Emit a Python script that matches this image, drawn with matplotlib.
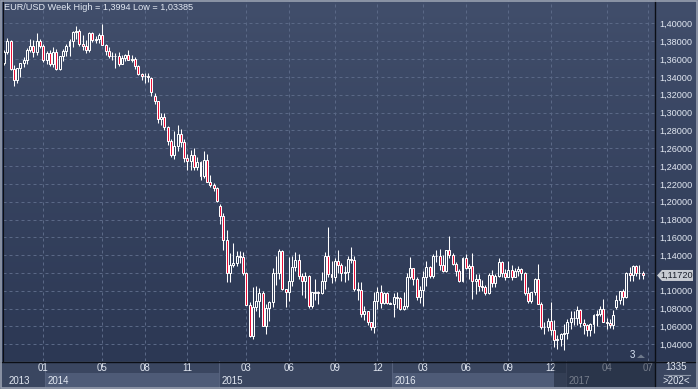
import numpy as np
import pandas as pd
import matplotlib
matplotlib.use('Agg')
import matplotlib.pyplot as plt
from matplotlib.patches import Rectangle, Polygon
from matplotlib.transforms import blended_transform_factory

# ---------------- data ----------------
symbol = 'EUR/USD'
period = 'Week'

week_starts = pd.date_range('2013-10-14', '2017-06-19', freq='W-MON')
year_split_bars = pd.to_datetime(['2014-01-01', '2015-01-01', '2016-01-01'])
bar_dates = week_starts.append(year_split_bars).sort_values()

opens = [
    1.3560, 1.3685, 1.3800, 1.3485, 1.3365, 1.3495, 1.3555, 1.3590, 1.3705, 1.3745,
    1.3675, 1.3805, 1.3745, 1.3590, 1.3665, 1.3540, 1.3680, 1.3485, 1.3635, 1.3695,
    1.3745, 1.3805, 1.3910, 1.3915, 1.3765, 1.3750, 1.3705, 1.3890, 1.3810, 1.3830,
    1.3870, 1.3760, 1.3695, 1.3630, 1.3635, 1.3640, 1.3545, 1.3610, 1.3645, 1.3595,
    1.3605, 1.3525, 1.3430, 1.3410, 1.3415, 1.3390, 1.3190, 1.3130, 1.2925, 1.2955,
    1.2835, 1.2680, 1.2520, 1.2625, 1.2760, 1.2670, 1.2490, 1.2455, 1.2525, 1.2390,
    1.2450, 1.2285, 1.2465, 1.2225, 1.2185, 1.2150, 1.1950, 1.1840, 1.1565, 1.1205,
    1.1290, 1.1315, 1.1390, 1.1380, 1.1195, 1.0845, 1.0495, 1.0815, 1.0890, 1.0970,
    1.0605, 1.0810, 1.0875, 1.1200, 1.1205, 1.1450, 1.1015, 1.0985, 1.1110, 1.1265,
    1.1350, 1.1165, 1.1110, 1.1165, 1.0825, 1.0980, 1.0985, 1.0970, 1.1105, 1.1385,
    1.1185, 1.1150, 1.1335, 1.1295, 1.1200, 1.1210, 1.1360, 1.1350, 1.1015, 1.1005,
    1.0740, 1.0770, 1.0645, 1.0590, 1.0885, 1.0990, 1.0865, 1.0970, 1.0860, 1.0855,
    1.0925, 1.0915, 1.0795, 1.0830, 1.1155, 1.1255, 1.1130, 1.0935, 1.1005, 1.1155,
    1.1265, 1.1165, 1.1390, 1.1395, 1.1285, 1.1225, 1.1455, 1.1405, 1.1305, 1.1225,
    1.1115, 1.1365, 1.1255, 1.1280, 1.1115, 1.1135, 1.1050, 1.1040, 1.0975, 1.1175,
    1.1085, 1.1165, 1.1325, 1.1195, 1.1155, 1.1235, 1.1155, 1.1225, 1.1240, 1.1200,
    1.0970, 1.0890, 1.0985, 1.1135, 1.0855, 1.0590, 1.0595, 1.0665, 1.0560, 1.0450,
    1.0455, 1.0520, 1.0530, 1.0645, 1.0700, 1.0695, 1.0785, 1.0640, 1.0615, 1.0560,
    1.0625, 1.0730, 1.0735, 1.0800, 1.0655, 1.0640, 1.0615, 1.0820, 1.0895, 1.0995,
    1.0935, 1.1205, 1.1180, 1.1280, 1.1195, 1.1200]
highs = [
    1.3705, 1.3832, 1.3812, 1.3530, 1.3500, 1.3560, 1.3620, 1.3720, 1.3830, 1.3810,
    1.3895, 1.3830, 1.3775, 1.3690, 1.3700, 1.3740, 1.3710, 1.3640, 1.3715, 1.3775,
    1.3825, 1.3915, 1.3967, 1.3935, 1.3875, 1.3810, 1.3905, 1.3900, 1.3865, 1.3890,
    1.3994, 1.3765, 1.3735, 1.3680, 1.3670, 1.3675, 1.3645, 1.3660, 1.3700, 1.3650,
    1.3625, 1.3530, 1.3445, 1.3445, 1.3445, 1.3405, 1.3220, 1.3135, 1.2990, 1.2995,
    1.2850, 1.2700, 1.2790, 1.2860, 1.2815, 1.2700, 1.2530, 1.2575, 1.2600, 1.2500,
    1.2455, 1.2570, 1.2530, 1.2295, 1.2215, 1.2170, 1.1970, 1.1870, 1.1680, 1.1420,
    1.1535, 1.1445, 1.1450, 1.1430, 1.1215, 1.0870, 1.1045, 1.1052, 1.1035, 1.1000,
    1.0850, 1.0880, 1.1260, 1.1390, 1.1465, 1.1460, 1.1025, 1.1380, 1.1385, 1.1435,
    1.1410, 1.1200, 1.1215, 1.1180, 1.0990, 1.1130, 1.1000, 1.1215, 1.1440, 1.1714,
    1.1330, 1.1370, 1.1460, 1.1315, 1.1275, 1.1390, 1.1495, 1.1390, 1.1100, 1.1095,
    1.0830, 1.0770, 1.0655, 1.0985, 1.1045, 1.1060, 1.0990, 1.0990, 1.0870, 1.0970,
    1.0990, 1.0930, 1.0985, 1.1200, 1.1375, 1.1260, 1.1150, 1.1055, 1.1220, 1.1340,
    1.1275, 1.1410, 1.1455, 1.1465, 1.1400, 1.1460, 1.1616, 1.1425, 1.1325, 1.1240,
    1.1375, 1.1415, 1.1300, 1.1428, 1.1185, 1.1185, 1.1120, 1.1070, 1.1200, 1.1235,
    1.1190, 1.1365, 1.1340, 1.1240, 1.1330, 1.1285, 1.1255, 1.1280, 1.1260, 1.1210,
    1.1040, 1.0990, 1.1145, 1.1299, 1.0870, 1.0655, 1.0700, 1.0874, 1.0670, 1.0500,
    1.0530, 1.0630, 1.0685, 1.0775, 1.0775, 1.0830, 1.0795, 1.0680, 1.0630, 1.0640,
    1.0735, 1.0780, 1.0830, 1.0905, 1.0700, 1.0680, 1.0780, 1.0950, 1.1000, 1.1020,
    1.1210, 1.1265, 1.1285, 1.1295, 1.1295, 1.1220]
lows = [
    1.3530, 1.3660, 1.3480, 1.3295, 1.3330, 1.3400, 1.3510, 1.3540, 1.3680, 1.3625,
    1.3650, 1.3730, 1.3570, 1.3550, 1.3520, 1.3510, 1.3480, 1.3475, 1.3580, 1.3640,
    1.3640, 1.3735, 1.3830, 1.3750, 1.3705, 1.3670, 1.3675, 1.3790, 1.3780, 1.3780,
    1.3760, 1.3645, 1.3615, 1.3585, 1.3500, 1.3525, 1.3540, 1.3580, 1.3590, 1.3570,
    1.3490, 1.3420, 1.3365, 1.3335, 1.3340, 1.3190, 1.3100, 1.2880, 1.2860, 1.2800,
    1.2640, 1.2500, 1.2475, 1.2570, 1.2615, 1.2440, 1.2360, 1.2360, 1.2355, 1.2355,
    1.2245, 1.2270, 1.2220, 1.2160, 1.2120, 1.2000, 1.1755, 1.1460, 1.1100, 1.1100,
    1.1270, 1.1280, 1.1315, 1.1175, 1.0840, 1.0485, 1.0462, 1.0770, 1.0710, 1.0600,
    1.0520, 1.0660, 1.0820, 1.1060, 1.1130, 1.1010, 1.0820, 1.0890, 1.1050, 1.1220,
    1.1135, 1.0955, 1.0915, 1.0810, 1.0810, 1.0900, 1.0850, 1.0960, 1.1020, 1.1155,
    1.1085, 1.1105, 1.1200, 1.1105, 1.1100, 1.1120, 1.1315, 1.1000, 1.0895, 1.0710,
    1.0675, 1.0615, 1.0555, 1.0524, 1.0800, 1.0805, 1.0850, 1.0850, 1.0850, 1.0710,
    1.0805, 1.0780, 1.0790, 1.0810, 1.1135, 1.1060, 1.0900, 1.0860, 1.0825, 1.1055,
    1.1145, 1.1145, 1.1320, 1.1235, 1.1215, 1.1215, 1.1365, 1.1290, 1.1170, 1.1100,
    1.1095, 1.1250, 1.1130, 1.0912, 1.0960, 1.1000, 1.1000, 1.0950, 1.0960, 1.1045,
    1.1045, 1.1160, 1.1160, 1.1125, 1.1150, 1.1120, 1.1150, 1.1170, 1.1120, 1.0955,
    1.0860, 1.0860, 1.0955, 1.0850, 1.0570, 1.0520, 1.0550, 1.0505, 1.0365, 1.0350,
    1.0375, 1.03385, 1.0455, 1.0575, 1.0620, 1.0620, 1.0590, 1.0520, 1.0495, 1.0495,
    1.0525, 1.0600, 1.0715, 1.0650, 1.0570, 1.0580, 1.0570, 1.0800, 1.0850, 1.0840,
    1.0920, 1.1110, 1.1110, 1.1170, 1.1130, 1.1130]
closes = [
    1.3685, 1.3800, 1.3485, 1.3365, 1.3495, 1.3555, 1.3590, 1.3705, 1.3745, 1.3675,
    1.3805, 1.3745, 1.3590, 1.3665, 1.3540, 1.3680, 1.3485, 1.3635, 1.3695, 1.3745,
    1.3805, 1.3910, 1.3915, 1.3765, 1.3750, 1.3705, 1.3890, 1.3810, 1.3830, 1.3870,
    1.3760, 1.3695, 1.3630, 1.3635, 1.3640, 1.3545, 1.3610, 1.3645, 1.3595, 1.3605,
    1.3525, 1.3430, 1.3410, 1.3415, 1.3400, 1.3230, 1.3130, 1.2925, 1.2955, 1.2835,
    1.2680, 1.2520, 1.2625, 1.2760, 1.2670, 1.2490, 1.2455, 1.2525, 1.2390, 1.2450,
    1.2285, 1.2465, 1.2225, 1.2185, 1.2150, 1.2005, 1.1840, 1.1565, 1.1205, 1.1290,
    1.1315, 1.1390, 1.1380, 1.1195, 1.0845, 1.0495, 1.0815, 1.0890, 1.0970, 1.0605,
    1.0810, 1.0875, 1.1200, 1.1205, 1.1450, 1.1015, 1.0985, 1.1110, 1.1265, 1.1350,
    1.1165, 1.1110, 1.1165, 1.0825, 1.0985, 1.0985, 1.0970, 1.1105, 1.1385, 1.1185,
    1.1150, 1.1335, 1.1295, 1.1200, 1.1210, 1.1360, 1.1350, 1.1015, 1.1005, 1.0740,
    1.0770, 1.0645, 1.0590, 1.0885, 1.0990, 1.0865, 1.0970, 1.0860, 1.0855, 1.0925,
    1.0915, 1.0795, 1.0830, 1.1155, 1.1255, 1.1130, 1.0935, 1.1005, 1.1155, 1.1265,
    1.1165, 1.1390, 1.1395, 1.1285, 1.1225, 1.1455, 1.1405, 1.1305, 1.1225, 1.1115,
    1.1365, 1.1255, 1.1280, 1.1115, 1.1135, 1.1050, 1.1040, 1.0975, 1.1175, 1.1085,
    1.1165, 1.1325, 1.1195, 1.1155, 1.1235, 1.1155, 1.1225, 1.1240, 1.1200, 1.0970,
    1.0890, 1.0985, 1.1135, 1.0855, 1.0590, 1.0595, 1.0665, 1.0560, 1.0450, 1.0455,
    1.0520, 1.0530, 1.0645, 1.0700, 1.0695, 1.0785, 1.0640, 1.0615, 1.0560, 1.0625,
    1.0730, 1.0735, 1.0800, 1.0655, 1.0640, 1.0615, 1.0725, 1.0895, 1.0995, 1.0935,
    1.1205, 1.1180, 1.1280, 1.1195, 1.1200, 1.1172]

price_levels = [1.04, 1.06, 1.08, 1.10, 1.12, 1.14, 1.16, 1.18, 1.20, 1.22,
                1.24, 1.26, 1.28, 1.30, 1.32, 1.34, 1.36, 1.38, 1.40]
month_ticks = ['2014-01', '2014-05', '2014-08', '2014-11', '2015-03', '2015-06',
               '2015-09', '2015-12', '2016-03', '2016-06', '2016-09', '2016-12',
               '2017-04', '2017-07']
years = [2013, 2014, 2015, 2016, 2017]
corner_top = '1335'
corner_bottom = '>202<'
marker_label = '3'

# ---------------- styling ----------------
W, H = 698, 389
PLOT_L, PLOT_R, PLOT_T, PLOT_B = 3, 655, 0, 361
TOP_COL = np.array([0x41, 0x4e, 0x6b]) / 255
BOT_COL = np.array([0x2c, 0x38, 0x54]) / 255
GRID_COL = '#5a6886'
TXT_COL = '#e2e8f2'
RED = '#ea1038'
UPFACE = '#36425e'
STRIP = '#3a4660'
BAND = '#4e5b77'
FONT = 'Liberation Sans'
FS = 6.6

plt.rcParams['font.family'] = [FONT, 'DejaVu Sans']

fig = plt.figure(figsize=(W / 100, H / 100), dpi=100)

# background (pixel coordinates, y downwards)
bg = fig.add_axes([0, 0, 1, 1], zorder=0)
bg.set_xlim(0, W)
bg.set_ylim(H, 0)
bg.axis('off')
t = np.linspace(0, 1, PLOT_B)[:, None]
grad = (TOP_COL[None, :] * (1 - t) + BOT_COL[None, :] * t)[:, None, :]
grad = np.repeat(grad, 2, axis=1)
bg.imshow(grad, extent=(0, W, PLOT_B, 0), aspect='auto', interpolation='bilinear', zorder=0)
bg.add_patch(Rectangle((0, PLOT_B), W, H - PLOT_B, color=STRIP, zorder=1, lw=0))

# main price axes
ax = fig.add_axes([PLOT_L / W, (H - PLOT_B) / H, (PLOT_R - PLOT_L) / W, (PLOT_B - PLOT_T) / H],
                  zorder=1)
ax.set_facecolor('none')
n = len(closes)
idx = np.arange(n)
x_per_px = 1 / 3.275
ax.set_xlim(-1 * x_per_px, (PLOT_R - 4) * x_per_px)
y_per_px = 1 / 891.0
ax.set_ylim(1.40 - (PLOT_B - 23.5) * y_per_px, 1.40 + 23.5 * y_per_px)
for s in ax.spines.values():
    s.set_visible(False)


def month_pos(ts):
    ts = pd.Timestamp(ts)
    m = np.where(bar_dates >= ts)[0]
    if len(m):
        return float(m[0])
    return n - 1 + (ts - bar_dates[-1]).days / 7.0


tick_pos = [month_pos(m + '-01') for m in month_ticks]
tick_lab = [m[-2:] for m in month_ticks]

last = closes[-1]
# price labels hidden behind the last-price marker are not shown
ylabels = ['' if abs(v - last) < 9 * y_per_px else f'{v:.5f}'.replace('.', ',')
           for v in price_levels]

ax.set_xticks(tick_pos)
ax.set_xticklabels([])
ax.set_yticks(price_levels)
ax.yaxis.tick_right()
ax.set_yticklabels(ylabels, fontsize=FS, color=TXT_COL, family=FONT)
ax.tick_params(axis='both', length=0)
ax.tick_params(axis='y', pad=3)
ax.grid(True, color=GRID_COL, linewidth=0.72, linestyle=(0, (3, 3)))
ax.set_axisbelow(True)

o = np.array(opens)
h = np.array(highs)
l = np.array(lows)
c = np.array(closes)
top = np.maximum(o, c)
bot = np.minimum(o, c)
ax.vlines(idx, top, np.maximum(h, top), color='white', lw=0.75, zorder=2)
ax.vlines(idx, np.minimum(l, bot), bot, color='white', lw=0.75, zorder=2)
face = [RED if cc < oo else UPFACE for oo, cc in zip(o, c)]
ax.bar(idx, np.maximum(top - bot, 0.0002), bottom=bot, width=0.6, color=face,
       edgecolor='white', linewidth=0.72, zorder=3)

# foreground overlay (pixel coordinates)
fg = fig.add_axes([0, 0, 1, 1], zorder=3)
fg.set_xlim(0, W)
fg.set_ylim(H, 0)
fg.axis('off')
fg.set_facecolor('none')
bx = blended_transform_factory(ax.transData, fg.transData)


def to_px(i):
    d = ax.transData.transform((i, 1.2))
    return fg.transData.inverted().transform(d)[0]


# year bands
year_start = []
for y in years:
    m = np.where(bar_dates.year == y)[0]
    year_start.append(m[0])
for k, y in enumerate(years):
    x0 = 0 if k == 0 else to_px(year_start[k] + 0.5)
    x1 = to_px(year_start[k + 1] + 0.5) if k + 1 < len(years) else PLOT_R
    if k % 2 == 1:
        fg.add_patch(Rectangle((x0, 373), x1 - x0, 14, color=BAND, lw=0, zorder=1))
    if k > 0:
        fg.plot([x0, x0], [PLOT_B, 387], color='#56627d', lw=0.8, zorder=2)
    lx = to_px(year_start[k]) + 4.5
    fg.text(lx, 380.5, str(y), ha='left', va='center', fontsize=FS + 0.4, color=TXT_COL, zorder=4)

for p, lab in zip(tick_pos, tick_lab):
    fg.text(p, 368, lab, transform=bx, ha='center', va='center', fontsize=FS + 0.4,
            color=TXT_COL, zorder=4)

# dimmed region at right of the time strip
fg.add_patch(Rectangle((554, PLOT_B), PLOT_R - 554, H - PLOT_B - 2, color='#1e2738',
                       alpha=0.55, lw=0, zorder=5))

# frame lines
fg.plot([PLOT_R, PLOT_R], [0, H], color='#0b0e15', lw=1.0, zorder=6)
fg.plot([0, W], [PLOT_B + 0.5, PLOT_B + 0.5], color='#0b0e15', lw=1.0, zorder=6)
fg.plot([2.5, 2.5], [0, PLOT_B], color='#0b0e15', lw=0.8, zorder=6)
fg.add_patch(Rectangle((0.7, 0.7), W - 1.4, H - 1.4, fill=False, ec='#98a0b0', lw=1.2, zorder=7))

# title
hi_txt = f'{max(highs):.5f}'.rstrip('0').replace('.', ',')
lo_txt = f'{min(lows):.5f}'.rstrip('0').replace('.', ',')
fg.text(4, 7.5, f'{symbol} {period} High = {hi_txt} Low = {lo_txt}', ha='left', va='center',
        fontsize=FS, color=TXT_COL, zorder=8)

# last price marker
yp = fg.transData.inverted().transform(ax.transData.transform((0, last)))[1]
fg.add_patch(Polygon([[657, yp], [662, yp - 5.5], [693, yp - 5.5], [693, yp + 5.5], [662, yp + 5.5]],
                     closed=True, color='#c7cbd2', lw=0, zorder=8))
fg.text(677, yp + 0.3, f'{last:.5f}'.replace('.', ','), ha='center', va='center', fontsize=FS,
        color='#1a1f2b', zorder=9)

# small marker at bottom of chart
fg.text(632, 355.5, marker_label, ha='center', va='center', fontsize=FS + 0.4, color='#dbe6f6', zorder=8)
fg.add_patch(Polygon([[637, 358], [641, 354.5], [645, 358]], closed=True, color='#6f7a8c', lw=0, zorder=8))

# corner box
fg.text(676.5, 367.5, corner_top, ha='center', va='center', fontsize=FS + 0.4, color=TXT_COL, zorder=8)
fg.plot([664, 690], [374.5, 374.5], color='#8e97a8', lw=0.8, zorder=8)
fg.text(676.5, 381, corner_bottom, ha='center', va='center', fontsize=FS + 0.4, color=TXT_COL, zorder=8)

fig.savefig('out.png', dpi=100)
